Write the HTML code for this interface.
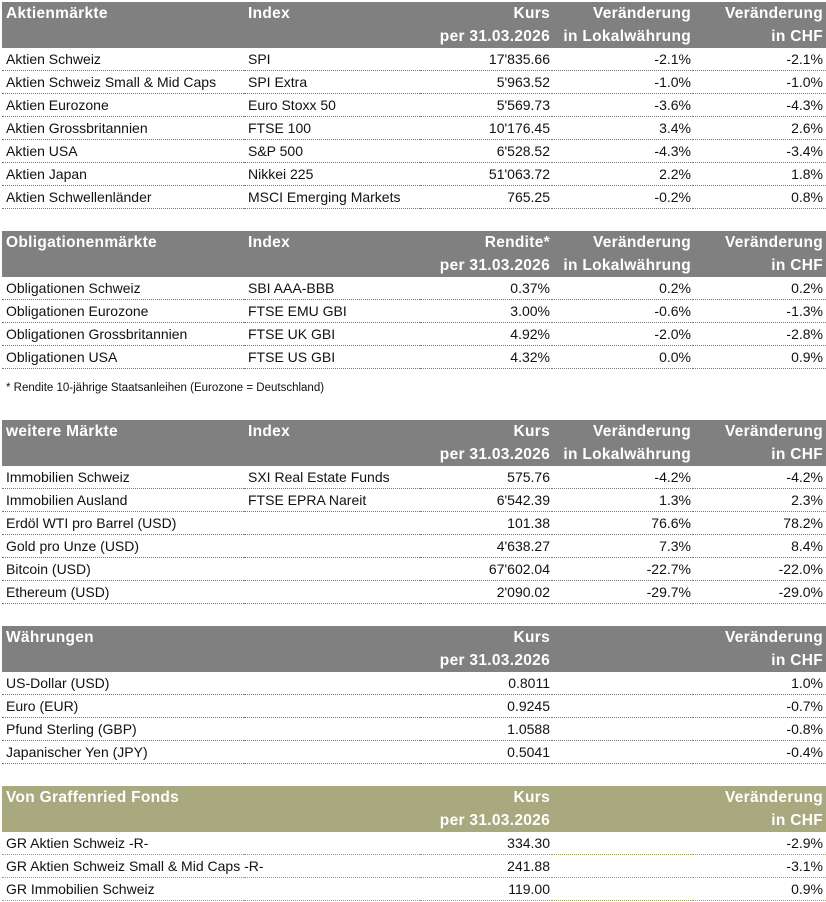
<!DOCTYPE html>
<html><head><meta charset="utf-8"><style>
body{margin:0;width:826px;height:902px;background:#fff;position:relative;overflow:hidden;font-family:"Liberation Sans",sans-serif;font-size:14px;color:#111}
table{position:absolute;left:2px;width:824px;border-collapse:collapse;table-layout:fixed}
td{padding:0 3px 0 4px;height:22px;line-height:22px;white-space:nowrap;overflow:visible;border-bottom:1px dotted #777}
th{font-weight:bold;font-size:15.5px;letter-spacing:0.3px;color:#fff;background:#808080;padding:0 3px 0 4px;height:23px;line-height:23px;white-space:nowrap;text-align:left}
.o th{background:#a9a97f}
.o td{border-bottom:1px dotted #a0a060}
.r{text-align:right}
td.r,th.r{padding-right:2px}
.c5{padding-right:3px!important}
.fn{position:absolute;left:6px;top:382px;font-size:11.5px}
</style></head><body>
<table style="top:2px"><colgroup><col style="width:242px"><col style="width:176px"><col style="width:132px"><col style="width:141px"><col style="width:133px"></colgroup>
<tr><th>Aktienmärkte</th><th>Index</th><th class="r">Kurs</th><th class="r">Veränderung</th><th class="r c5">Veränderung</th></tr>
<tr><th></th><th></th><th class="r">per 31.03.2026</th><th class="r">in Lokalwährung</th><th class="r c5">in CHF</th></tr>
<tr><td>Aktien Schweiz</td><td>SPI</td><td class="r">17'835.66</td><td class="r">-2.1%</td><td class="r c5">-2.1%</td></tr>
<tr><td>Aktien Schweiz Small &amp; Mid Caps</td><td>SPI Extra</td><td class="r">5'963.52</td><td class="r">-1.0%</td><td class="r c5">-1.0%</td></tr>
<tr><td>Aktien Eurozone</td><td>Euro Stoxx 50</td><td class="r">5'569.73</td><td class="r">-3.6%</td><td class="r c5">-4.3%</td></tr>
<tr><td>Aktien Grossbritannien</td><td>FTSE 100</td><td class="r">10'176.45</td><td class="r">3.4%</td><td class="r c5">2.6%</td></tr>
<tr><td>Aktien USA</td><td>S&amp;P 500</td><td class="r">6'528.52</td><td class="r">-4.3%</td><td class="r c5">-3.4%</td></tr>
<tr><td>Aktien Japan</td><td>Nikkei 225</td><td class="r">51'063.72</td><td class="r">2.2%</td><td class="r c5">1.8%</td></tr>
<tr><td>Aktien Schwellenländer</td><td>MSCI Emerging Markets</td><td class="r">765.25</td><td class="r">-0.2%</td><td class="r c5">0.8%</td></tr>
</table>
<table style="top:231px"><colgroup><col style="width:242px"><col style="width:176px"><col style="width:132px"><col style="width:141px"><col style="width:133px"></colgroup>
<tr><th>Obligationenmärkte</th><th>Index</th><th class="r">Rendite*</th><th class="r">Veränderung</th><th class="r c5">Veränderung</th></tr>
<tr><th></th><th></th><th class="r">per 31.03.2026</th><th class="r">in Lokalwährung</th><th class="r c5">in CHF</th></tr>
<tr><td>Obligationen Schweiz</td><td>SBI AAA-BBB</td><td class="r">0.37%</td><td class="r">0.2%</td><td class="r c5">0.2%</td></tr>
<tr><td>Obligationen Eurozone</td><td>FTSE EMU GBI</td><td class="r">3.00%</td><td class="r">-0.6%</td><td class="r c5">-1.3%</td></tr>
<tr><td>Obligationen Grossbritannien</td><td>FTSE UK GBI</td><td class="r">4.92%</td><td class="r">-2.0%</td><td class="r c5">-2.8%</td></tr>
<tr><td>Obligationen USA</td><td>FTSE US GBI</td><td class="r">4.32%</td><td class="r">0.0%</td><td class="r c5">0.9%</td></tr>
</table>
<div class="fn">* Rendite 10-jährige Staatsanleihen (Eurozone = Deutschland)</div>
<table style="top:420px"><colgroup><col style="width:242px"><col style="width:176px"><col style="width:132px"><col style="width:141px"><col style="width:133px"></colgroup>
<tr><th>weitere Märkte</th><th>Index</th><th class="r">Kurs</th><th class="r">Veränderung</th><th class="r c5">Veränderung</th></tr>
<tr><th></th><th></th><th class="r">per 31.03.2026</th><th class="r">in Lokalwährung</th><th class="r c5">in CHF</th></tr>
<tr><td>Immobilien Schweiz</td><td>SXI Real Estate Funds</td><td class="r">575.76</td><td class="r">-4.2%</td><td class="r c5">-4.2%</td></tr>
<tr><td>Immobilien Ausland</td><td>FTSE EPRA Nareit</td><td class="r">6'542.39</td><td class="r">1.3%</td><td class="r c5">2.3%</td></tr>
<tr><td>Erdöl WTI pro Barrel (USD)</td><td></td><td class="r">101.38</td><td class="r">76.6%</td><td class="r c5">78.2%</td></tr>
<tr><td>Gold pro Unze (USD)</td><td></td><td class="r">4'638.27</td><td class="r">7.3%</td><td class="r c5">8.4%</td></tr>
<tr><td>Bitcoin (USD)</td><td></td><td class="r">67'602.04</td><td class="r">-22.7%</td><td class="r c5">-22.0%</td></tr>
<tr><td>Ethereum (USD)</td><td></td><td class="r">2'090.02</td><td class="r">-29.7%</td><td class="r c5">-29.0%</td></tr>
</table>
<table style="top:626px"><colgroup><col style="width:242px"><col style="width:176px"><col style="width:132px"><col style="width:141px"><col style="width:133px"></colgroup>
<tr><th>Währungen</th><th></th><th class="r">Kurs</th><th></th><th class="r c5">Veränderung</th></tr>
<tr><th></th><th></th><th class="r">per 31.03.2026</th><th></th><th class="r c5">in CHF</th></tr>
<tr><td>US-Dollar (USD)</td><td></td><td class="r">0.8011</td><td></td><td class="r c5">1.0%</td></tr>
<tr><td>Euro (EUR)</td><td></td><td class="r">0.9245</td><td></td><td class="r c5">-0.7%</td></tr>
<tr><td>Pfund Sterling (GBP)</td><td></td><td class="r">1.0588</td><td></td><td class="r c5">-0.8%</td></tr>
<tr><td>Japanischer Yen (JPY)</td><td></td><td class="r">0.5041</td><td></td><td class="r c5">-0.4%</td></tr>
</table>
<table class="o" style="top:786px"><colgroup><col style="width:242px"><col style="width:176px"><col style="width:132px"><col style="width:141px"><col style="width:133px"></colgroup>
<tr><th>Von Graffenried Fonds</th><th></th><th class="r">Kurs</th><th></th><th class="r c5">Veränderung</th></tr>
<tr><th></th><th></th><th class="r">per 31.03.2026</th><th></th><th class="r c5">in CHF</th></tr>
<tr><td>GR Aktien Schweiz -R-</td><td></td><td class="r">334.30</td><td></td><td class="r c5">-2.9%</td></tr>
<tr><td>GR Aktien Schweiz Small &amp; Mid Caps -R-</td><td></td><td class="r">241.88</td><td></td><td class="r c5">-3.1%</td></tr>
<tr><td>GR Immobilien Schweiz</td><td></td><td class="r">119.00</td><td></td><td class="r c5">0.9%</td></tr>
</table>
</body></html>
